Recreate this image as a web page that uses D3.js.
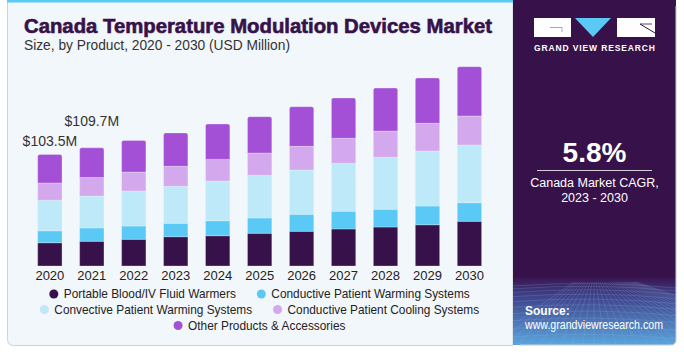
<!DOCTYPE html>
<html>
<head>
<meta charset="utf-8">
<script src="https://cdn.jsdelivr.net/npm/d3@7"></script>
<style>
  body { margin: 0; background: #ffffff; }
  text { font-family: "Liberation Sans", Arial, sans-serif; }
</style>
</head>
<body>
<script>
var w = 684; // width of the SVG canvas
var h = 352; // height of the SVG canvas

// data, USD million
var years = ["2020", "2021", "2022", "2023", "2024", "2025", "2026", "2027", "2028", "2029", "2030"];
var seriesNames = ["Portable Blood/IV Fluid Warmers", "Conductive Patient Warming Systems",
                   "Convective Patient Warming Systems", "Conductive Patient Cooling Systems",
                   "Other Products & Accessories"];
var portable   = [21.6, 23.0, 24.8, 27.2, 28.1, 30.4, 32.2, 34.4, 36.2, 38.3, 41.5];
var conductive = [11.1, 12.4, 12.3, 12.4, 13.9, 14.2, 15.8, 16.4, 16.4, 17.4, 17.3];
var convective = [28.4, 29.5, 32.5, 34.4, 36.9, 39.6, 41.1, 44.6, 48.3, 51.1, 53.6];
var cooling    = [16.0, 17.3, 17.6, 18.6, 20.1, 20.7, 22.0, 23.2, 24.4, 25.7, 26.9];
var other      = [26.4, 27.5, 29.4, 30.9, 32.8, 33.7, 36.8, 37.4, 39.9, 42.1, 45.8];
var labelYears = ["2020", "2021"];
var labelTexts = ["$103.5M", "$109.7M"];
var colors = ["#37124a", "#5bc9f5", "#bde9f9", "#d4a8ec", "#a350d6"];

var rows = years.map(function(y, i) {
  return {year: y, s0: portable[i], s1: conductive[i], s2: convective[i], s3: cooling[i], s4: other[i]};
});
var stack = d3.stack().keys(["s0", "s1", "s2", "s3", "s4"])(rows);

var svg = d3.select("body").append("svg")
  .attr("width", w)
  .attr("height", h);

var defs = svg.append("defs");
var grad = defs.append("linearGradient").attr("id", "fade")
  .attr("x1", 0).attr("y1", 0).attr("x2", 0).attr("y2", 1);
grad.append("stop").attr("offset", "0").attr("stop-color", "#3a1752");
grad.append("stop").attr("offset", "0.25").attr("stop-color", "#3e3f86");
grad.append("stop").attr("offset", "1").attr("stop-color", "#5aa5de");
defs.append("clipPath").attr("id", "panelClip")
  .append("path").attr("d", "M513,0H676V339Q676,345 670,345H513Z");

// card background
svg.append("path")
  .attr("d", "M7.5,0V339Q7.5,345.5 13.5,345.5H513V0Z")
  .attr("fill", "#f2f7fb")
  .attr("stroke", "#cfd3d8");
svg.append("rect").attr("x", 7).attr("y", 0).attr("width", 506).attr("height", 2.5).attr("fill", "#5bc9f5");

// right panel
var panel = svg.append("g").attr("clip-path", "url(#panelClip)");
panel.append("rect").attr("x", 513).attr("y", 0).attr("width", 163).attr("height", 345).attr("fill", "#37124a");
panel.append("rect").attr("x", 513).attr("y", 278).attr("width", 163).attr("height", 67).attr("fill", "url(#fade)");
// wire grid texture
var gridG = panel.append("g").attr("stroke", "#8fb6e6").attr("stroke-opacity", 0.35).attr("stroke-width", 0.6).attr("fill", "none");
d3.range(0, 14).forEach(function(k) {
  var y0 = 286 + k * k * 0.35 + k * 2.5;
  gridG.append("path").attr("d", "M513," + y0 + " Q595," + (y0 - 6) + " 676," + (y0 + 2));
});
d3.range(-10, 22).forEach(function(k) {
  gridG.append("path").attr("d", "M" + (594 + k * 2) + ",282 L" + (594 + k * 11) + ",345");
});
svg.append("path").attr("d", "M676,6V339Q676,345 670,345H520").attr("fill", "none").attr("stroke", "#c8ccd2").attr("stroke-width", 1);

// logo
svg.append("rect").attr("x", 534).attr("y", 18).attr("width", 37).attr("height", 19).attr("fill", "#ffffff");
svg.append("path").attr("d", "M550,27.5H562V32").attr("fill", "none").attr("stroke", "#9a8fa3").attr("stroke-width", 0.8);
svg.append("path").attr("d", "M575,18H611L593,37Z").attr("fill", "#5bc9f5");
svg.append("rect").attr("x", 617).attr("y", 18).attr("width", 38).attr("height", 19).attr("fill", "#ffffff");
svg.append("path").attr("d", "M640,24L655,33").attr("stroke", "#37124a").attr("stroke-width", 1);
svg.append("path").attr("d", "M640,24H652").attr("stroke", "#37124a").attr("stroke-width", 0.8);
svg.append("text").attr("x", 594.5).attr("y", 51).attr("text-anchor", "middle")
  .attr("fill", "#ffffff").attr("font-size", 8.5).attr("font-weight", "bold")
  .attr("textLength", 121).attr("lengthAdjust", "spacing")
  .text("GRAND VIEW RESEARCH");

// CAGR block
svg.append("text").attr("x", 594.5).attr("y", 161.5).attr("text-anchor", "middle")
  .attr("fill", "#ffffff").attr("font-size", 28).attr("font-weight", "bold").text("5.8%");
svg.append("line").attr("x1", 537).attr("x2", 652).attr("y1", 170.5).attr("y2", 170.5)
  .attr("stroke", "#ffffff").attr("stroke-width", 0.8);
svg.append("text").attr("x", 594.5).attr("y", 186.5).attr("text-anchor", "middle")
  .attr("fill", "#ffffff").attr("font-size", 12.5).text("Canada Market CAGR,");
svg.append("text").attr("x", 594.5).attr("y", 201.5).attr("text-anchor", "middle")
  .attr("fill", "#ffffff").attr("font-size", 12.5).text("2023 - 2030");
svg.append("text").attr("x", 525).attr("y", 315).attr("fill", "#ffffff")
  .attr("font-size", 12).attr("font-weight", "bold").text("Source:");
svg.append("text").attr("x", 525).attr("y", 329).attr("fill", "#ffffff")
  .attr("font-size", 12).attr("textLength", 138).attr("lengthAdjust", "spacingAndGlyphs")
  .text("www.grandviewresearch.com");

// titles
svg.append("text").attr("x", 24).attr("y", 33).attr("fill", "#37124a")
  .attr("font-size", 20).attr("font-weight", "bold")
  .attr("stroke", "#37124a").attr("stroke-width", 0.6)
  .attr("textLength", 468).attr("lengthAdjust", "spacingAndGlyphs")
  .text("Canada Temperature Modulation Devices Market");
svg.append("text").attr("x", 24).attr("y", 50).attr("fill", "#333333")
  .attr("font-size", 14).attr("textLength", 266).attr("lengthAdjust", "spacingAndGlyphs")
  .text("Size, by Product, 2020 - 2030 (USD Million)");

// scales
var xScale = d3.scaleBand().domain(years).range([16.7, 502.6]).paddingInner(0.42).paddingOuter(0.5);
var yScale = d3.scaleLinear().domain([0, 185.7]).range([266, 66]);

// bars
var layers = svg.selectAll("g.layer")
  .data(stack)
  .enter()
  .append("g")
  .attr("class", "layer")
  .attr("fill", function(d, i) { return colors[i]; });

layers.selectAll("path")
  .data(function(d, i) { return d.map(function(p) { return {p: p, top: i === 4}; }); })
  .enter()
  .append("path")
  .attr("d", function(d) {
    var x0 = xScale(d.p.data.year), x1 = x0 + xScale.bandwidth();
    var y0 = yScale(d.p[0]), y1 = yScale(d.p[1]);
    var r = d.top ? 2 : 0;
    return "M" + x0 + "," + y0 + "V" + (y1 + r) + "Q" + x0 + "," + y1 + " " + (x0 + r) + "," + y1 +
           "H" + (x1 - r) + "Q" + x1 + "," + y1 + " " + x1 + "," + (y1 + r) + "V" + y0 + "Z";
  })
  .attr("stroke", "#f2f7fb")
  .attr("stroke-opacity", 0.5)
  .attr("stroke-width", 0.6);

// x axis
var xAxis = d3.axisBottom(xScale).tickSize(0).tickPadding(5);
var xg = svg.append("g").attr("transform", "translate(0,266)").call(xAxis);
xg.select(".domain").remove();
xg.selectAll("text").attr("font-size", 13).attr("fill", "#222222")
  .attr("font-family", "Liberation Sans, Arial, sans-serif");

// value labels
var totals = {};
rows.forEach(function(r) { totals[r.year] = r.s0 + r.s1 + r.s2 + r.s3 + r.s4; });
var labelOffsets = [9, 22];
svg.selectAll("text.val")
  .data(labelYears)
  .enter()
  .append("text")
  .attr("class", "val")
  .attr("x", function(d) { return xScale(d) + xScale.bandwidth() / 2; })
  .attr("y", function(d, i) { return yScale(totals[d]) - labelOffsets[i]; })
  .attr("text-anchor", "middle")
  .attr("font-size", 14)
  .attr("fill", "#333333")
  .text(function(d, i) { return labelTexts[i]; });

// legend
var legendRows = [[0, 1], [2, 3], [4]];
var legendY = [294, 309.5, 325.5];
var legendCenter = 259.5;
legendRows.forEach(function(items, r) {
  var g = svg.append("g");
  var x = 0;
  items.forEach(function(idx, j) {
    if (j > 0) x += 21;
    g.append("circle").attr("cx", x + 4.5).attr("cy", 0).attr("r", 4.5).attr("fill", colors[idx]);
    var t = g.append("text").attr("x", x + 14.5).attr("y", 4.2)
      .attr("font-size", 11.85).attr("fill", "#222222").text(seriesNames[idx]);
    x += 14.5 + t.node().getComputedTextLength();
  });
  g.attr("transform", "translate(" + (legendCenter - x / 2) + "," + legendY[r] + ")");
});
</script>
</body>
</html>
